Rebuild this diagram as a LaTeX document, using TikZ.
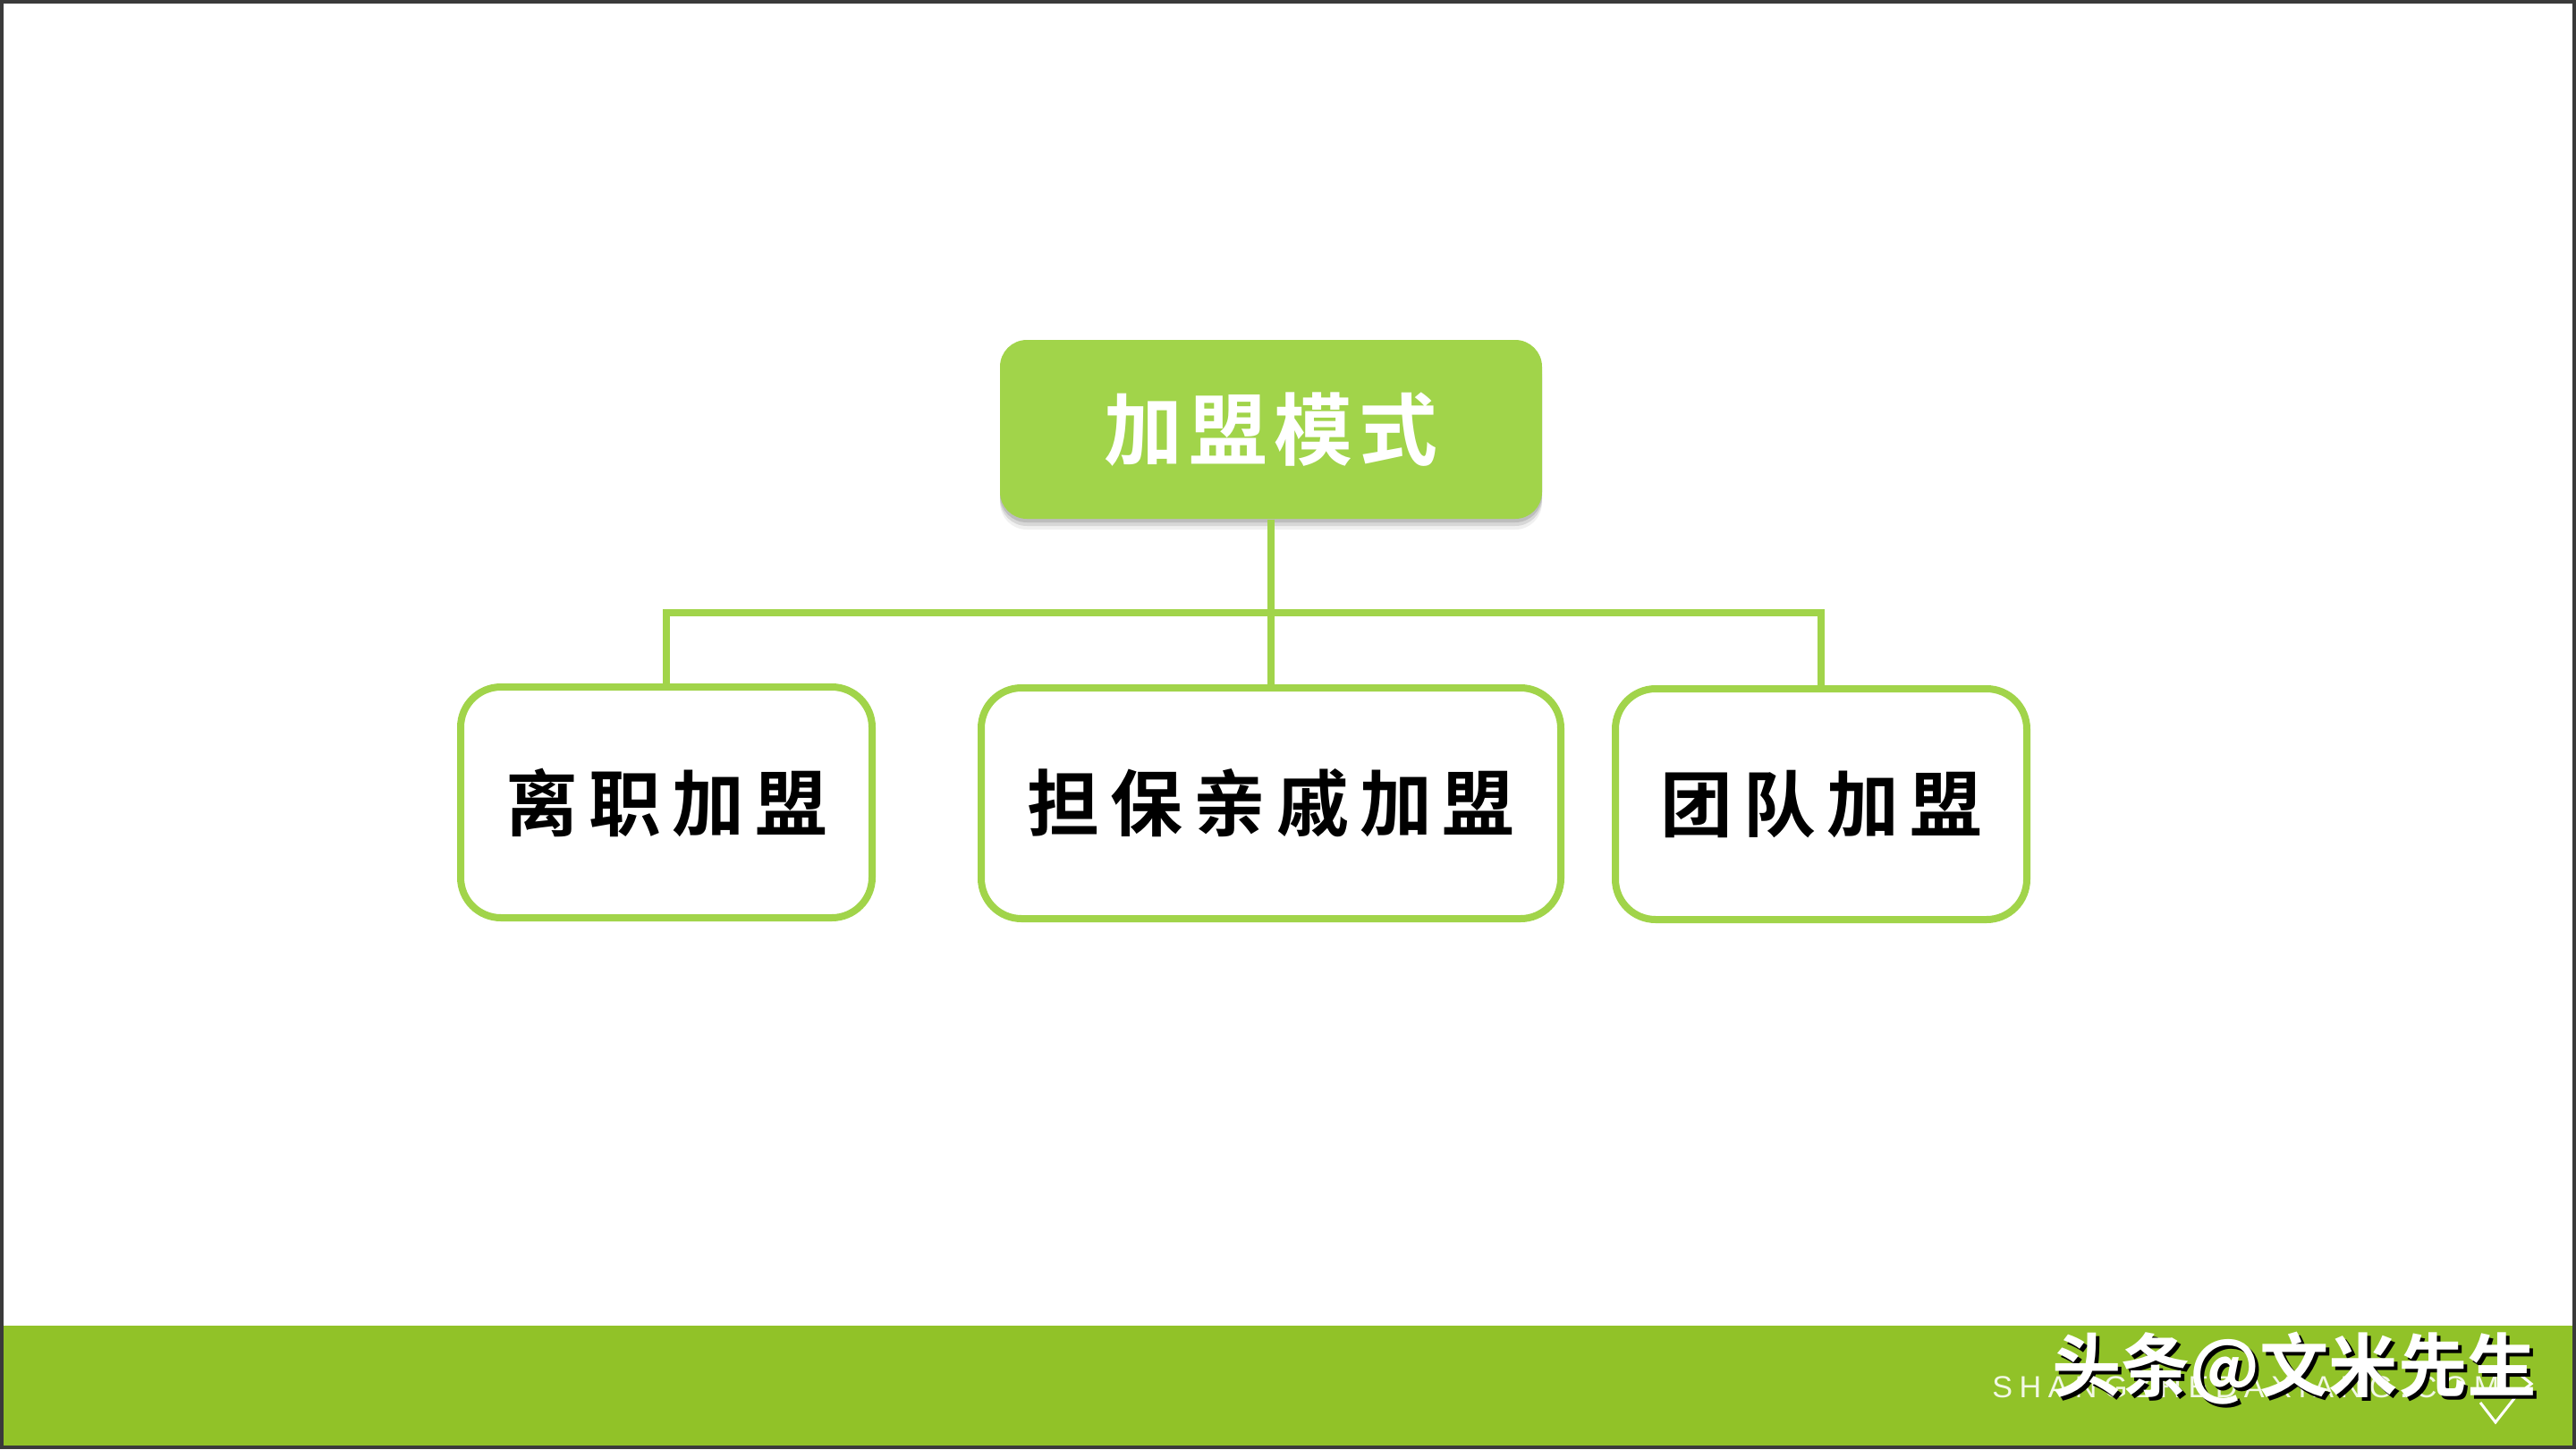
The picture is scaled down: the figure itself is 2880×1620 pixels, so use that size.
\documentclass[tikz,border=0pt]{standalone}
\usepackage{fontspec}
\usetikzlibrary{shadows}
\setsansfont{Liberation Sans}
\newfontfamily\cjk{Noto Sans CJK SC}[BoldFont={Noto Sans CJK SC Bold}]
\definecolor{leaf}{RGB}{161,212,74}
\definecolor{band}{RGB}{145,194,40}
\definecolor{frame}{RGB}{58,58,58}
\begin{document}
\begin{tikzpicture}[x=0.1mm,y=-0.1mm,
  topbox/.style={fill=leaf, rounded corners=3mm, minimum width=60.6mm, minimum height=20mm,
    text=white, font=\cjk\bfseries\fontsize{25}{25}\selectfont\addfontfeatures{LetterSpace=8},
    drop shadow={shadow xshift=0mm, shadow yshift=-0.4mm, opacity=0.12, fill=black},
    drop shadow={shadow xshift=0mm, shadow yshift=-0.8mm, opacity=0.1, fill=black},
    drop shadow={shadow xshift=0mm, shadow yshift=-1.2mm, opacity=0.06, fill=black}},
  box/.style={draw=leaf, line width=0.8mm, rounded corners=4.5mm, fill=white, minimum height=25.8mm,
    font=\cjk\bfseries\fontsize{23}{23}\selectfont\addfontfeatures{LetterSpace=15}},
  link/.style={draw=leaf, line width=0.8mm},
  wmark/.style={font=\cjk\bfseries\fontsize{22}{22}\selectfont}]
  \useasboundingbox (0,0) rectangle (2880,1620);
  \fill[white] (0,0) rectangle (2880,1620);
  % footer band
  \fill[band] (0,1482) rectangle (2880,1620);
  % tree
  \node[topbox] (mode) at (1421,480) {加盟模式};
  \node[box, minimum width=46mm] (resign) at (745,897) {离职加盟};
  \node[box, minimum width=64.8mm] (guarantee) at (1421,898) {担保亲戚加盟};
  \node[box, minimum width=46mm] (team) at (2036,899) {团队加盟};
  \coordinate (bus) at (1421,685);
  \draw[link] (mode.south) -- (guarantee.north);
  \draw[link] (resign.north) |- (bus) -| (team.north);
  % watermark
  \node[anchor=base west, text=white!88!band,
    font=\sffamily\fontsize{9.7}{10}\selectfont\addfontfeatures{LetterSpace=22}] (site) at (2215,1562) {SHANGZHEDAXIANG.COM};
  \draw[white, line width=0.3mm] (2813,1533) -- (2830,1547) -- (2813,1560);
  \draw[white, line width=0.3mm] (2773,1568) -- (2790,1590) -- (2812,1562);
  \node[wmark, text=black] (wmshadow) at (2569,1534) {头条@文米先生};
  \node[wmark, text=white] (wm) at (2565,1530) {头条@文米先生};
  % frame
  \draw[frame, line width=0.4mm] (2,2) rectangle (2878,1618);
\end{tikzpicture}
\end{document}
